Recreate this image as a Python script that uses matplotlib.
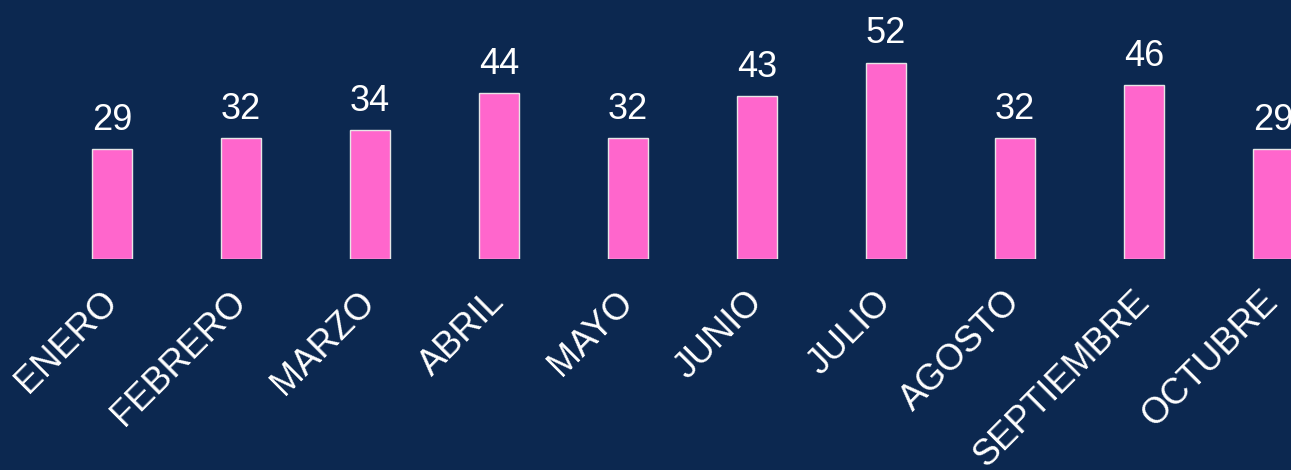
import matplotlib
matplotlib.use("Agg")
import matplotlib.pyplot as plt

months = ["ENERO", "FEBRERO", "MARZO", "ABRIL", "MAYO", "JUNIO",
          "JULIO", "AGOSTO", "SEPTIEMBRE", "OCTUBRE"]
values = [29, 32, 34, 44, 32, 43, 52, 32, 46, 29]

bg = "#0C2850"
bar_color = "#FF66CC"

plt.rcParams['font.family'] = ['Liberation Sans', 'DejaVu Sans']

fig = plt.figure(figsize=(12.91, 4.70), dpi=100, facecolor=bg)
ax = fig.add_axes([0, 0.45, 1, 0.55])
ax.set_facecolor(bg)

x = list(range(len(months)))
bars = ax.bar(x, values, width=0.31, color=bar_color, edgecolor="#E6E6E6", linewidth=1)
ax.bar_label(bars, labels=[str(v) for v in values], padding=8, color="white", fontsize=26)

ax.set_xlim(-0.868, 9.14)
ax.set_ylim(0, 68.6)
ax.set_xticks(x)
ax.set_xticklabels(months, rotation=45, ha='right', va='center', rotation_mode='anchor',
                   color='white', fontsize=26)
ax.tick_params(axis='x', length=0, pad=27.5)
ax.set_yticks([])
for s in ax.spines.values():
    s.set_visible(False)

fig.savefig("out.png", dpi=100, facecolor=bg)
